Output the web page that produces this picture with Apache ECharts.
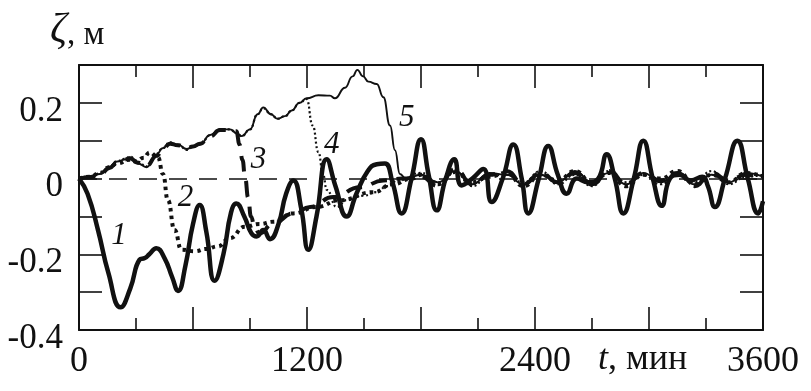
<!DOCTYPE html>
<html>
<head>
<meta charset="utf-8">
<script src="https://cdn.jsdelivr.net/npm/echarts@6/dist/echarts.min.js"></script>
<style>
  html, body { margin: 0; padding: 0; background: #fff; }
  #chart { width: 811px; height: 391px; }
</style>
</head>
<body>
<div id="chart"></div>
<script>
// time, min
var xTicks = [0, 1200, 2400, 3600];
var yTicks = [0.2, 0, -0.2, -0.4];

// curve 1 (thick solid)
var t1 = [0, 45, 100, 155, 219, 270, 319, 346, 370, 407, 450, 490, 521, 560, 600, 635, 670, 714, 760, 800, 828,
  870, 907, 935, 970, 1005, 1050, 1090, 1128, 1170, 1207, 1250, 1304, 1350, 1409, 1460, 1520, 1567, 1610, 1650,
  1698, 1750, 1800, 1840, 1883, 1930, 1975, 2014, 2070, 2128, 2172, 2230, 2286, 2330, 2365, 2420, 2470, 2520,
  2567, 2620, 2680, 2733, 2777, 2820, 2865, 2920, 2970, 3020, 3067, 3110, 3160, 3220, 3280, 3310, 3347, 3400,
  3465, 3520, 3575, 3600];
var z1 = [0, -0.04, -0.136, -0.25, -0.34, -0.29, -0.214, -0.21, -0.2, -0.184, -0.21, -0.26, -0.297, -0.23, -0.12, -0.07, -0.14, -0.27, -0.2, -0.09, -0.066,
  -0.1, -0.144, -0.153, -0.136, -0.16, -0.12, -0.04, -0.005, -0.08, -0.188, -0.1, 0.051, -0.02, -0.1, -0.04, 0.02, 0.038, 0.04, -0.01,
  -0.092, 0.0, 0.104, 0.01, -0.084, 0.0, 0.051, -0.018, 0.0, 0.025, -0.062, 0.0, 0.09, 0.0, -0.092, 0.0, 0.086, 0.01,
  -0.04, 0.0, -0.01, 0.0, 0.064, 0.0, -0.092, 0.0, 0.1, 0.0, -0.072, 0.0, 0.01, -0.005, 0.005, -0.02, -0.075, 0.0,
  0.1, 0.0, -0.092, -0.06];

// curve 2 (thick dotted)
var t2 = [0, 60, 110, 160, 200, 268, 300, 340, 372, 416, 442, 468, 503, 539, 609, 670, 731, 795, 872, 950, 1023,
  1128, 1250, 1374, 1549, 1650, 1750, 1800, 1890, 1980, 2070, 2160, 2250, 2340, 2430, 2520, 2610, 2700, 2790,
  2880, 2970, 3060, 3150, 3240, 3330, 3420, 3510, 3600];
var z2 = [0, 0.005, 0.015, 0.03, 0.04, 0.05, 0.045, 0.055, 0.069, 0.056, 0.012, -0.057, -0.136, -0.188, -0.192, -0.186, -0.179, -0.157, -0.127, -0.12, -0.114,
  -0.092, -0.075, -0.057, -0.036, -0.015, 0.0, 0.01, -0.015, 0.02, -0.01, 0.005, 0.015, -0.02, 0.01, -0.005, 0.02, -0.01, 0.015,
  -0.02, 0.01, 0.0, 0.02, -0.015, 0.01, -0.01, 0.015, 0.005];

// curve 3 (thick dashed)
var t3 = [0, 60, 110, 160, 200, 240, 268, 310, 356, 409, 440, 479, 520, 567, 600, 637, 690, 742, 795, 828, 845,
  860, 875, 890, 905, 925, 950, 1023, 1128, 1216, 1339, 1479, 1602, 1700, 1800, 1890, 1980, 2070, 2160, 2250,
  2340, 2430, 2520, 2610, 2700, 2790, 2880, 2970, 3060, 3150, 3240, 3330, 3420, 3510, 3600];
var z3 = [0, 0.004, 0.01, 0.028, 0.042, 0.05, 0.054, 0.042, 0.034, 0.06, 0.078, 0.092, 0.088, 0.08, 0.085, 0.092, 0.112, 0.128, 0.128, 0.125, 0.09,
  0.05, 0.0, -0.05, -0.1, -0.13, -0.145, -0.118, -0.092, -0.075, -0.049, -0.023, -0.005, 0.0, 0.005, -0.02, 0.025, -0.015, 0.01, 0.02,
  -0.015, 0.015, -0.01, 0.015, -0.015, 0.02, -0.015, 0.015, -0.005, 0.015, -0.02, 0.015, -0.005, 0.01, 0.0];

// curve 4 (thin dotted)
var t4 = [0, 60, 110, 160, 200, 240, 268, 310, 356, 409, 440, 479, 520, 567, 600, 637, 690, 742, 795, 830, 856,
  900, 940, 970, 1010, 1045, 1085, 1120, 1160, 1198, 1230, 1260, 1285, 1304, 1356, 1409, 1500, 1567, 1620, 1680,
  1800, 1890, 1980, 2070, 2160, 2250, 2340, 2430, 2520, 2610, 2700, 2790, 2880, 2970, 3060, 3150, 3240, 3330,
  3420, 3510, 3600];
var z4 = [0, 0.006, 0.014, 0.032, 0.046, 0.052, 0.058, 0.044, 0.032, 0.066, 0.08, 0.096, 0.09, 0.076, 0.084, 0.09, 0.114, 0.13, 0.13, 0.12, 0.112,
  0.13, 0.17, 0.186, 0.17, 0.158, 0.165, 0.18, 0.2, 0.21, 0.14, 0.07, 0.01, -0.03, -0.075, -0.057, -0.045, -0.036, -0.02, -0.005,
  0.015, -0.01, 0.015, -0.02, 0.01, 0.01, -0.01, 0.02, -0.015, 0.01, -0.02, 0.02, -0.01, 0.01, -0.015, 0.01, -0.01, 0.02,
  -0.015, 0.005, 0.01];

// curve 5 (thin solid)
var t5 = [0, 60, 110, 160, 200, 240, 268, 310, 356, 409, 440, 479, 520, 567, 600, 637, 690, 742, 795, 830, 856,
  900, 940, 970, 1010, 1045, 1085, 1120, 1160, 1198, 1260, 1321, 1347, 1400, 1440, 1465, 1495, 1523, 1567, 1602,
  1637, 1663, 1689, 1720, 1800, 1890, 1980, 2070, 2160, 2250, 2340, 2430, 2520, 2610, 2700, 2790, 2880, 2970,
  3060, 3150, 3240, 3330, 3420, 3510, 3600];
var z5 = [0, 0.005, 0.012, 0.03, 0.045, 0.05, 0.056, 0.04, 0.03, 0.064, 0.08, 0.095, 0.09, 0.078, 0.085, 0.09, 0.115, 0.13, 0.13, 0.12, 0.112,
  0.13, 0.17, 0.188, 0.17, 0.158, 0.165, 0.18, 0.2, 0.212, 0.22, 0.219, 0.212, 0.24, 0.27, 0.287, 0.27, 0.256, 0.25, 0.215,
  0.14, 0.075, 0.012, 0.0, 0.01, -0.01, 0.02, -0.015, 0.015, 0.01, -0.015, 0.01, -0.01, 0.02, -0.01, 0.015, -0.015, 0.015,
  -0.01, 0.01, -0.015, 0.01, -0.01, 0.015, 0.005];

// curve labels
var labelNames = ['1', '2', '3', '4', '5'];
var labelT = [210, 560, 945, 1330, 1725];
var labelZ = [-0.15, -0.05, 0.05, 0.09, 0.16];

function pairs(t, z) {
  return t.map(function (x, i) { return [x, z[i]]; });
}

var serif = '"Liberation Serif", "DejaVu Serif", serif';
var ink = '#111';

var chart = echarts.init(document.getElementById('chart'));

function xAx(pos, labels) {
  return {
    type: 'value', position: pos, min: 0, max: 3600, interval: 600,
    axisLine: { show: true, onZero: false, lineStyle: { color: ink, width: 2 } },
    axisTick: { show: true, inside: true, length: 23, lineStyle: { color: ink, width: 1.6 } },
    minorTick: { show: true, splitNumber: 2, length: 12, lineStyle: { color: ink, width: 1.6 } },
    splitLine: { show: false },
    axisLabel: {
      show: labels, margin: 14, color: ink, fontFamily: serif, fontSize: 36,
      formatter: function (v) { return xTicks.indexOf(v) >= 0 ? String(v) : ''; }
    }
  };
}
function yAx(pos, labels) {
  return {
    type: 'value', position: pos, min: -0.4, max: 0.3, interval: 0.1,
    axisLine: { show: true, onZero: false, lineStyle: { color: ink, width: 2 } },
    axisTick: { show: true, inside: true, length: 23, lineStyle: { color: ink, width: 1.6 } },
    splitLine: { show: false },
    axisLabel: {
      show: labels, margin: 16, color: ink, fontFamily: serif, fontSize: 35,
      verticalAlign: 'top', lineHeight: 17,
      formatter: function (v) {
        var r = Math.round(v * 10) / 10;
        if (yTicks.indexOf(r) < 0) return '';
        return r === 0 ? '0' : r.toFixed(1);
      }
    }
  };
}

function line(name, t, z, width, type, zIdx, mono) {
  return {
    name: name, type: 'line', data: pairs(t, z), xAxisIndex: 0, yAxisIndex: 0,
    showSymbol: false, smooth: 0.5, smoothMonotone: mono ? 'x' : null, z: zIdx,
    itemStyle: { color: ink },
    lineStyle: { color: ink, width: width, type: type, cap: 'butt', join: 'round' },
    silent: true, animation: false
  };
}

var series = [
  {
    type: 'line', data: [], xAxisIndex: 0, yAxisIndex: 0, z: 1,
    markLine: {
      silent: true, symbol: ['none', 'none'], label: { show: false }, animation: false,
      lineStyle: { color: ink, width: 1.6, type: [18, 12] },
      data: [{ yAxis: 0 }]
    }
  },
  line('5', t5, z5, 1.9, 'solid', 3, true),
  line('4', t4, z4, 2.2, [2, 2.5], 3, true),
  line('3', t3, z3, 4, [16, 10], 4, true),
  line('2', t2, z2, 4, [3.5, 4], 4, true),
  line('1', t1, z1, 4.5, 'solid', 5, false),
  {
    type: 'scatter', xAxisIndex: 0, yAxisIndex: 0, z: 6, symbolSize: 0, silent: true,
    itemStyle: { color: ink },
    data: labelNames.map(function (n, i) { return { value: [labelT[i], labelZ[i]], name: n }; }),
    label: {
      show: true, position: 'inside', formatter: '{b}', color: ink,
      textBorderWidth: 0, opacity: 1,
      fontFamily: serif, fontStyle: 'italic', fontSize: 31
    }
  }
];

chart.setOption({
  animation: false,
  backgroundColor: '#fff',
  grid: { left: 79, right: 48, top: 65, bottom: 61 },
  xAxis: [xAx('bottom', true), xAx('top', false)],
  yAxis: [yAx('left', true), yAx('right', false)],
  graphic: [
    {
      type: 'text', left: 50, top: 10,
      style: {
        text: '{i|ζ}{r|, м}', fill: ink, font: '32px ' + serif,
        rich: {
          i: { fontStyle: 'italic', fontFamily: serif, fontSize: 42, fill: ink, verticalAlign: 'bottom' },
          r: { fontFamily: serif, fontSize: 33, fill: ink, verticalAlign: 'bottom' }
        }
      }
    },
    {
      type: 'text', left: 598, top: 342,
      style: {
        text: '{i|t}, мин', fill: ink, font: '36px ' + serif,
        rich: { i: { fontStyle: 'italic', fontFamily: serif, fontSize: 36, fill: ink } }
      }
    }
  ],
  series: series
});
</script>
</body>
</html>
